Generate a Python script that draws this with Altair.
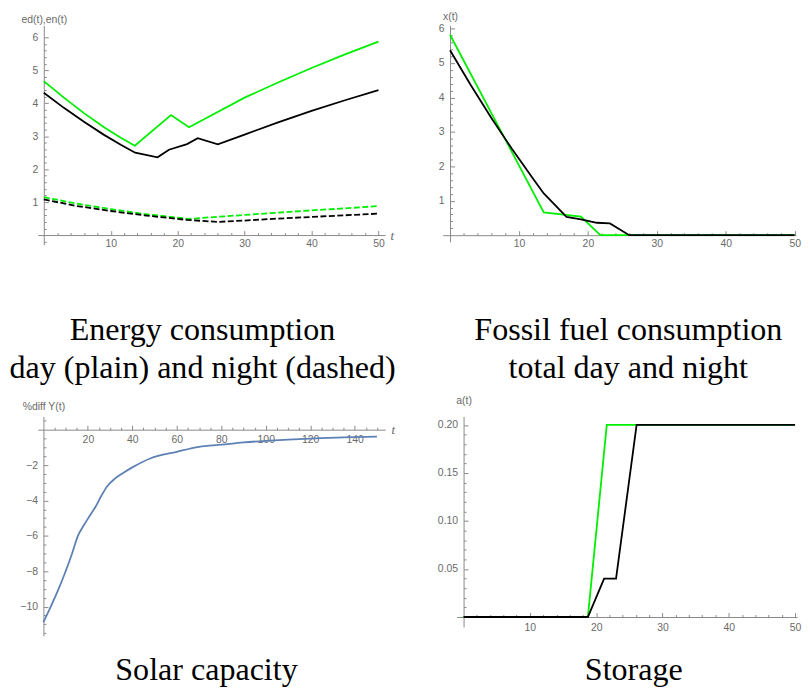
import altair as alt
import pandas as pd

# ---------------- data ----------------
# Panel 1: energy consumption, day (solid) and night (dashed)
ed_green_t = [0, 3, 6, 9, 11.5, 13.6, 19.0, 21.7, 25, 30, 35, 40, 45, 50]
ed_green_v = [4.67, 4.17, 3.70, 3.27, 2.95, 2.71, 3.64, 3.27, 3.63, 4.17, 4.63, 5.07, 5.48, 5.87]
ed_black_t = [0, 3, 6, 9, 11.5, 13.65, 17.0, 18.7, 21.4, 23.0, 26.0, 30, 35, 40, 45, 50]
ed_black_v = [4.32, 3.86, 3.44, 3.04, 2.74, 2.50, 2.36, 2.59, 2.76, 2.94, 2.75, 3.05, 3.42, 3.77, 4.09, 4.40]
en_green_t = [0, 5, 10, 15, 21.7, 25, 30, 35, 40, 45, 50]
en_green_v = [1.15, 0.95, 0.79, 0.64, 0.49, 0.54, 0.61, 0.68, 0.75, 0.81, 0.88]
en_black_t = [0, 5, 10, 15, 21.4, 26, 30, 35, 40, 45, 50]
en_black_v = [1.08, 0.88, 0.73, 0.60, 0.46, 0.40, 0.44, 0.50, 0.55, 0.60, 0.65]

# Panel 2: fossil fuel consumption
x_green_t = [0, 13.6, 19.0, 21.8, 26, 50]
x_green_v = [5.82, 0.66, 0.54, 0.0, 0.0, 0.0]
x_black_t = [0, 3, 6, 9, 12, 13.6, 16.9, 19.0, 21.3, 23.2, 26.0, 50]
x_black_v = [5.37, 4.36, 3.40, 2.50, 1.65, 1.21, 0.53, 0.46, 0.36, 0.34, 0.0, 0.0]

# Panel 3: solar capacity (% diff Y)
solar_t = [0, 3.3, 6.5, 10, 13, 15.5, 17.9, 20.5, 23.5, 26, 28.6, 32.3, 36, 40, 48,
           60, 70, 80, 90, 100, 110, 120, 135, 150]
solar_v = [-10.88, -10.0, -9.1, -8.0, -6.95, -6.0, -5.46, -4.93, -4.34, -3.75, -3.21, -2.75,
           -2.43, -2.13, -1.63, -1.25, -0.97, -0.85, -0.72, -0.63, -0.56, -0.50, -0.44, -0.39]

# Panel 4: storage
a_green_t = [0, 18.75, 21.6, 50]
a_green_v = [0.0, 0.0, 0.2, 0.2]
a_black_t = [0, 18.75, 21.2, 23.0, 26.1, 50]
a_black_v = [0.0, 0.0, 0.04, 0.04, 0.2, 0.2]

GREEN = "#00ee00"
BLACK = "#000000"
BLUE = "#5e81b5"
AXIS_COLOR = "#8a8a8a"
LABEL_COLOR = "#6a6a6a"
MAJ = 4.5
MIN = 2.5
CAP_SIZE = 32.3


def frame(t, v):
    return pd.DataFrame({"t": t, "v": v})


def make_panel(series, xdom, ydom, W, H, xmaj, xmin, ymaj, ymin, ytitle, ytitle_y,
               ttitle_x, xlab_gap, caption, cap_dx, cap_offset, yformat):
    x0 = (0 - xdom[0]) / (xdom[1] - xdom[0]) * W
    y0 = (ydom[1] - 0) / (ydom[1] - ydom[0]) * H
    xs = alt.Scale(domain=xdom, nice=False, zero=False)
    ys = alt.Scale(domain=ydom, nice=False, zero=False)
    common = dict(grid=False, tickColor=AXIS_COLOR, domainColor=AXIS_COLOR,
                  labelColor=LABEL_COLOR, labelFont="Liberation Sans", labelFontSize=10.5,
                  labelFlush=False, labelOverlap=False, tickWidth=1, domainWidth=1)
    xtitle = dict(title="")
    if ttitle_x is not None:
        xtitle = dict(title="t", titleX=ttitle_x, titleY=0, titleAngle=0, titleAlign="left",
                      titleBaseline="middle", titleFont="Liberation Serif",
                      titleFontStyle="italic", titleFontWeight="normal", titleFontSize=13,
                      titleColor=LABEL_COLOR)
    xmajor = alt.Axis(orient="top", offset=-y0, values=xmaj, tickSize=MAJ,
                      labelPadding=-(MAJ + xlab_gap), labelBaseline="top", labelAlign="center",
                      domain=True, **xtitle, **common)
    xminor = alt.Axis(orient="top", offset=-y0, values=xmin, tickSize=MIN, labels=False,
                      domain=False, title="", **common)
    ymajor = alt.Axis(orient="right", offset=x0 - W, values=ymaj, tickSize=MAJ,
                      labelPadding=-(MAJ + 6), labelAlign="right", labelBaseline="middle",
                      format=yformat, domain=True, title=ytitle, titleX=0, titleY=ytitle_y,
                      titleAngle=0, titleAlign="center", titleBaseline="middle",
                      titleFont="Liberation Sans", titleFontSize=10.5, titleFontWeight="normal",
                      titleColor=LABEL_COLOR, **common)
    yminor = alt.Axis(orient="right", offset=x0 - W, values=ymin, tickSize=MIN, labels=False,
                      domain=False, title="", **common)

    minor = alt.Chart(series[0][0]).mark_line(opacity=0).encode(
        x=alt.X("t:Q", scale=xs, axis=xminor), y=alt.Y("v:Q", scale=ys, axis=yminor))
    layers = [minor]
    for i, (df, color, dash, interp) in enumerate(series):
        mk = dict(color=color, strokeWidth=1.8, interpolate=interp)
        if dash:
            mk["strokeDash"] = dash
        layers.append(alt.Chart(df).mark_line(**mk).encode(
            x=alt.X("t:Q", scale=xs, axis=xmajor if i == 0 else None),
            y=alt.Y("v:Q", scale=ys, axis=ymajor if i == 0 else None)))
    return alt.layer(*layers).resolve_axis(x="independent", y="independent").properties(
        width=W, height=H,
        title=alt.TitleParams(text=caption, orient="bottom", anchor="middle", frame="group",
                              font="Liberation Serif", fontSize=CAP_SIZE, fontWeight="normal",
                              color="black", lineHeight=38, baseline="alphabetic",
                              offset=cap_offset, dx=cap_dx))


DASH = [6, 2.5]

p1 = make_panel(
    [(frame(ed_green_t, ed_green_v), GREEN, None, "linear"),
     (frame(ed_black_t, ed_black_v), BLACK, None, "linear"),
     (frame(en_green_t, en_green_v), GREEN, DASH, "linear"),
     (frame(en_black_t, en_black_v), BLACK, DASH, "linear")],
    xdom=[-0.9, 51.0], ydom=[-0.295, 6.36], W=350, H=221,
    xmaj=[10, 20, 30, 40, 50], xmin=[v for v in range(2, 50, 2) if v % 10],
    ymaj=[1, 2, 3, 4, 5, 6],
    ymin=[round(-0.2 + 0.2 * k, 1) for k in range(0, 31) if round(-0.2 + 0.2 * k, 1) % 1 != 0],
    ytitle="ed(t),en(t)", ytitle_y=-6, ttitle_x=355, xlab_gap=3.2,
    caption=["Energy consumption", "day (plain) and night (dashed)"], cap_dx=-9, cap_offset=92,
    yformat="d")

p2 = make_panel(
    [(frame(x_green_t, x_green_v), GREEN, None, "linear"),
     (frame(x_black_t, x_black_v), BLACK, None, "linear")],
    xdom=[-1.06, 50.2], ydom=[-0.193, 6.09], W=356, H=218,
    xmaj=[10, 20, 30, 40, 50], xmin=[v for v in range(2, 50, 2) if v % 10],
    ymaj=[1, 2, 3, 4, 5, 6],
    ymin=[round(0.2 * k, 1) for k in range(1, 30) if k % 5],
    ytitle="x(t)", ytitle_y=-9, ttitle_x=None, xlab_gap=3.2,
    caption=["Fossil fuel consumption", "total day and night"], cap_dx=9, cap_offset=92,
    yformat="d")

p3 = make_panel(
    [(frame(solar_t, solar_v), BLUE, None, "monotone")],
    xdom=[-2.54, 153.7], ydom=[-11.65, 0.746], W=350, H=221,
    xmaj=[20, 40, 60, 80, 100, 120, 140], xmin=[v for v in range(5, 155, 5) if v % 20],
    ymaj=[-2, -4, -6, -8, -10],
    ymin=[0.5 - 0.5 * k for k in range(0, 25) if (0.5 - 0.5 * k) % 2 != 0],
    ytitle="%diff Y(t)", ytitle_y=-10.3, ttitle_x=356, xlab_gap=4.9,
    caption=["Solar capacity"], cap_dx=-5, cap_offset=44, yformat="d")

p4 = make_panel(
    [(frame(a_green_t, a_green_v), GREEN, None, "linear"),
     (frame(a_black_t, a_black_v), BLACK, None, "linear")],
    xdom=[-1.05, 50.3], ydom=[-0.0103, 0.2088], W=343, H=212,
    xmaj=[10, 20, 30, 40, 50], xmin=[v for v in range(2, 50, 2) if v % 10],
    ymaj=[0.05, 0.10, 0.15, 0.20],
    ymin=[round(0.01 * k, 2) for k in range(1, 20) if k % 5],
    ytitle="a(t)", ytitle_y=-16, ttitle_x=None, xlab_gap=5.9,
    caption=["Storage"], cap_dx=7, cap_offset=47, yformat=".2f")

row1 = alt.hconcat(p1, p2, spacing=58, bounds="flush")
row2 = alt.hconcat(p3, p4, spacing=72, bounds="flush")

chart = alt.vconcat(row1, row2, spacing=10).properties(
    padding={"left": 0, "top": 0, "right": 0, "bottom": 0}
).configure_view(stroke="transparent")

chart.save("out.html", embed_options={"renderer": "svg", "actions": False})
